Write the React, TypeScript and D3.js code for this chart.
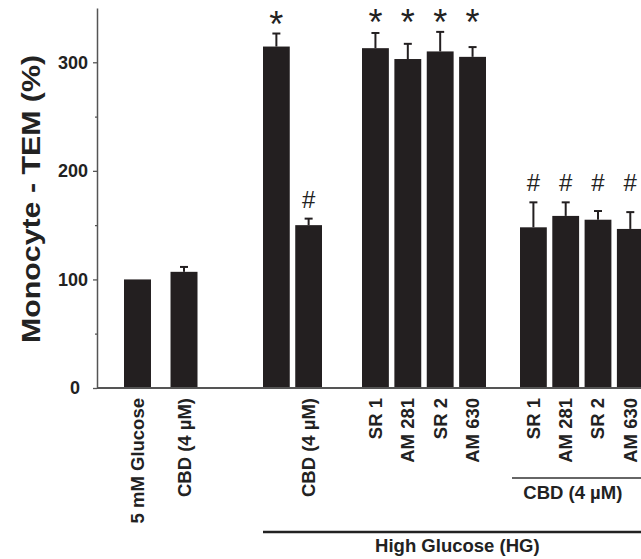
import React, { useEffect, useRef } from 'react';
import * as d3 from 'd3';

// bar labels, means and upper error (SEM)
const labels = ['5 mM Glucose', 'CBD (4 µM)', '', 'CBD (4 µM)', 'SR 1', 'AM 281', 'SR 2', 'AM 630', 'SR 1', 'AM 281', 'SR 2', 'AM 630'];
const values = [100, 107, 314.5, 150, 313, 303, 310, 305, 148, 158.5, 155, 146.5];
const errors = [0, 4.5, 12, 6, 14, 14, 18, 9, 23, 12.5, 8, 15.5];
const marks = ['', '', '*', '#', '*', '*', '*', '*', '#', '#', '#', '#'];
const groups = [0, 0, 1, 1, 2, 2, 2, 2, 3, 3, 3, 3];
const yTicks = [0, 100, 200, 300];
const yMinorTicks = [50, 150, 250];
const subLabel = 'CBD (4 µM)';
const hgLabel = 'High Glucose (HG)';
const yTitle = 'Monocyte - TEM (%)';

const width = 641;
const height = 559;
const axisX = 97;
const font = '"Liberation Sans", Arial, sans-serif';
const barColor = '#231f20';

// pixel span of each group of bars
const groupRanges: [number, number][] = [[124, 197.5], [263, 322], [362, 486], [520, 643.7]];
const groupPadding = [0.42, 0.17, 0.17, 0.17];

const App = () => {
  const axisRef = useRef<SVGGElement>(null);

  const y = d3.scaleLinear().domain([0, 350]).range([388, 8]);

  const bandScales = groupRanges.map((r, g) => {
    const members = groups.map((gg, i) => (gg === g ? i : -1)).filter(i => i >= 0);
    return d3.scaleBand<number>().domain(members).range(r).paddingInner(groupPadding[g]).paddingOuter(0);
  });
  const xOf = (i: number) => bandScales[groups[i]](i) as number;
  const bw = (i: number) => bandScales[groups[i]].bandwidth();
  const cx = (i: number) => xOf(i) + bw(i) / 2;

  // marker level: highest error top among bars of same group with same mark
  const markLevel = (i: number) =>
    d3.max(values.map((v, j) => (groups[j] === groups[i] && marks[j] === marks[i] ? v + errors[j] : 0))) as number;

  useEffect(() => {
    document.body.style.margin = '0';
    const g = d3.select(axisRef.current);
    g.selectAll('*').remove();
    g.append('g')
      .call(d3.axisLeft(y).tickValues(yMinorTicks).tickSize(2).tickSizeOuter(0).tickFormat(() => ''))
      .call(s => s.select('.domain').remove());
    g.append('g')
      .call(d3.axisLeft(y).tickValues(yTicks).tickSize(4).tickSizeOuter(0).tickPadding(5).tickFormat(d3.format('d')))
      .call(s => s.selectAll('text')
        .style('font-family', font)
        .style('font-size', '18px')
        .style('font-weight', 'bold')
        .attr('fill', '#222'))
      .call(s => s.selectAll('.tick').filter(d => d === 0).select('text').attr('x', -17));
    g.selectAll('line').attr('stroke', '#555').attr('stroke-width', 1.3);
    g.selectAll('.domain').attr('stroke', '#555').attr('stroke-width', 1.5);
  }, []);

  const n = values.length;
  const sub = d3.range(n).filter(i => groups[i] === 3);
  const subX0 = xOf(sub[0]) - 8;
  const subX1 = xOf(sub[sub.length - 1]) + bw(sub[sub.length - 1]);
  const hgX0 = xOf(2);
  const hgX1 = subX1 + 8;

  return (
    <svg width={width} height={height} style={{ display: 'block', background: '#fff' }}>
      {values.map((v, i) => (
        <rect key={'b' + i} x={xOf(i)} y={y(v)} width={bw(i)} height={y(0) - y(v)} fill={barColor} />
      ))}
      {values.map((v, i) => errors[i] > 0 && (
        <g key={'e' + i} stroke={barColor} strokeWidth={2}>
          <line x1={cx(i)} x2={cx(i)} y1={y(v)} y2={y(v + errors[i])} />
          <line x1={cx(i) - 4} x2={cx(i) + 4} y1={y(v + errors[i])} y2={y(v + errors[i])} />
        </g>
      ))}
      {marks.map((m, i) => m && (
        <text key={'m' + i} x={cx(i)} textAnchor="middle"
          y={m === '*' ? y(markLevel(i)) + 3 : y(markLevel(i)) - 11}
          fontFamily={font} fontSize={m === '*' ? 36 : 24} fill="#222">{m}</text>
      ))}
      <line x1={axisX} x2={width} y1={y(0)} y2={y(0)} stroke="#555" strokeWidth={2} />
      <g ref={axisRef} transform={`translate(${axisX},0)`} />
      <text transform={`translate(31,199) rotate(-90)`} textAnchor="middle" dominantBaseline="central"
        fontFamily={font} fontSize={25} fontWeight="bold" fill="#222"
        textLength={288} lengthAdjust="spacingAndGlyphs">{yTitle}</text>
      {labels.map((l, i) => l && (
        <text key={'l' + i} transform={`translate(${cx(i)},398) rotate(-90)`} textAnchor="end"
          dominantBaseline="central" fontFamily={font} fontSize={18.5} fontWeight="bold" fill="#222">{l}</text>
      ))}
      <line x1={subX0} x2={width} y1={478} y2={478} stroke="#333" strokeWidth={1.5} />
      <text x={(subX0 + subX1) / 2 - 5} y={499} textAnchor="middle" fontFamily={font} fontSize={18.5}
        fontWeight="bold" fill="#222">{subLabel}</text>
      <line x1={hgX0} x2={hgX1} y1={532} y2={532} stroke="#222" strokeWidth={2.5} />
      <text x={(hgX0 + hgX1) / 2} y={552} textAnchor="middle" fontFamily={font} fontSize={18.5}
        fontWeight="bold" fill="#222">{hgLabel}</text>
    </svg>
  );
};

export default App;
